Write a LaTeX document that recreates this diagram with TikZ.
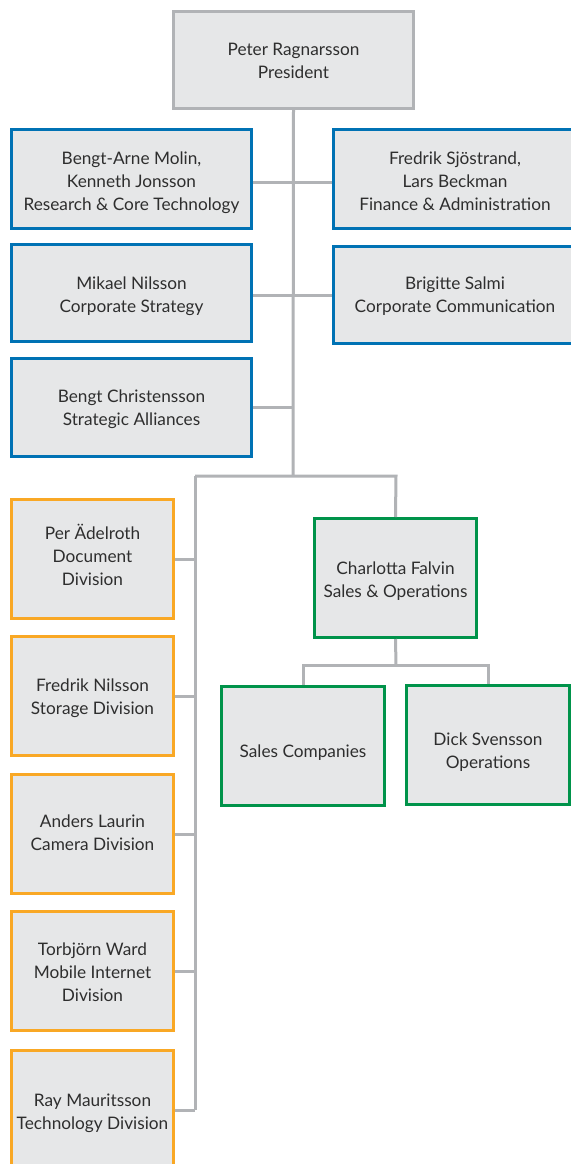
\documentclass[tikz,border=0pt]{standalone}
\usepackage{fontspec}
\setmainfont{Lato}
\definecolor{boxfill}{HTML}{E6E7E8}
\definecolor{linegray}{HTML}{B1B3B6}
\definecolor{bblue}{HTML}{0072B4}
\definecolor{borange}{HTML}{F9A825}
\definecolor{bgreen}{HTML}{00934A}
\definecolor{txt}{HTML}{2E2E2E}
\begin{document}
\begin{tikzpicture}[x=1bp,y=-1bp,
  box/.style={draw, fill=boxfill, line width=3bp, inner sep=0pt},
  lbl/.style={align=center, text=txt, inner sep=0pt, font=\fontsize{17.3}{23}\selectfont},
  graybox/.style={box, draw=linegray},
  bluebox/.style={box, draw=bblue, minimum height=97bp},
  orangebox/.style={box, draw=borange, minimum width=162bp, minimum height=119bp},
  greenbox/.style={box, draw=bgreen, minimum width=163bp, minimum height=119bp},
  conn/.style={draw=linegray, line width=3bp}]
\useasboundingbox (0,0) rectangle (571,1164);
\fill[white] (0,0) rectangle (571,1164);
% top
\node[graybox, minimum width=240bp, minimum height=97bp] (pres) at (293.5,60) {};
\node[lbl] (pres-t) at ([yshift=-1bp]pres.center) {Peter Ragnarsson\\President};
% staff
\node[bluebox, minimum width=240bp, minimum height=99bp] (res) at (131.5,179) {};
\node[lbl] (res-t) at ([yshift=-4bp]res.center) {Bengt-Arne Molin,\\Kenneth Jonsson\\Research \& Core Technology};
\node[bluebox, minimum width=243bp, minimum height=99bp] (fin) at (455,179) {};
\node[lbl] (fin-t) at ([yshift=-2bp]fin.center) {Fredrik Sjöstrand,\\Lars Beckman\\Finance \& Administration};
\node[bluebox, minimum width=240bp] (strat) at (131.5,293) {};
\node[lbl] (strat-t) at ([yshift=-3bp]strat.center) {Mikael Nilsson\\Corporate Strategy};
\node[bluebox, minimum width=243bp] (brig) at (455,295) {};
\node[lbl] (brig-t) at ([yshift=-1bp]brig.center) {Brigitte Salmi\\Corporate Communication};
\node[bluebox, minimum width=240bp, minimum height=98bp] (alli) at (131.5,407.5) {};
\node[lbl] (alli-t) at ([yshift=-2bp]alli.center) {Bengt Christensson\\Strategic Alliances};
% divisions
\node[orangebox] (per) at (92.5,559) {};
\node[lbl] (per-t) at ([yshift=4bp]per.center) {Per Ädelroth\\Document\\Division};
\node[orangebox] (fnil) at (92.5,696) {};
\node[lbl] (fnil-t) at ([yshift=-2bp]fnil.center) {Fredrik Nilsson\\Storage Division};
\node[orangebox] (and) at (92.5,834) {};
\node[lbl] (and-t) at ([yshift=1bp]and.center) {Anders Laurin\\Camera Division};
\node[orangebox] (torb) at (92.5,971) {};
\node[lbl] (torb-t) at ([yshift=-1bp]torb.center) {Torbjörn Ward\\Mobile Internet\\Division};
\node[orangebox] (ray) at (92.5,1110) {};
\node[lbl] (ray-t) at ([yshift=-3.5bp]ray.center) {Ray Mauritsson\\Technology Division};
% sales
\node[greenbox, minimum width=162bp] (char) at (395.5,578) {};
\node[lbl] (char-t) at ([yshift=-3bp]char.center) {Charlotta Falvin\\Sales \& Operations};
\node[greenbox] (sales) at (303,746) {};
\node[lbl] (sales-t) at ([yshift=-7bp]sales.center) {Sales Companies};
\node[greenbox] (dick) at (488,745) {};
\node[lbl] (dick-t) at ([yshift=-7bp]dick.center) {Dick Svensson\\Operations};
% connectors
\coordinate (j0) at (293,476);
\coordinate (jl) at (195,476);
\coordinate (jr) at (396,476);
\coordinate (cj) at (396,665);
\path[conn] (pres.south) -- (j0);
\path[conn] ([yshift=-3bp]res.east) -- ([yshift=-3bp]fin.west);
\path[conn] (strat.east |- brig.west) -- (brig.west);
\path[conn] (alli.east) -- (alli.east -| pres.south);
\path[conn] (jl) -- (jr) -- (char.north);
\path[conn] (jl) -- (jl |- ray.east);
\foreach \n in {per,fnil,and,torb,ray} { \path[conn] (\n.east) -- (\n.east -| jl); }
\path[conn] (char.south) -- (cj);
\path[conn] (sales.north) -- (sales.north |- cj) -- (dick.north |- cj) -- (dick.north);
\end{tikzpicture}
\end{document}
